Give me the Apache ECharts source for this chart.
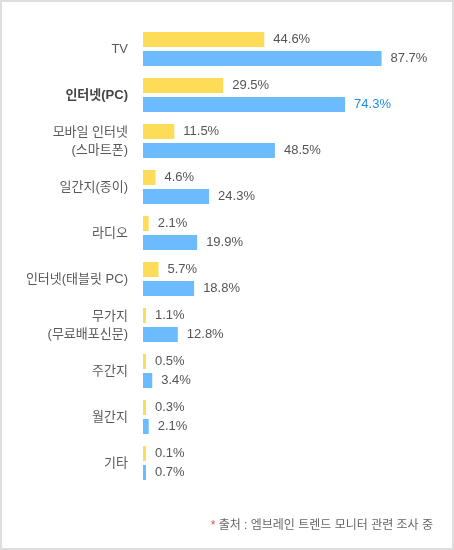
<!DOCTYPE html>
<html>
<head>
<meta charset="utf-8">
<script src="https://cdn.jsdelivr.net/npm/echarts@6/dist/echarts.min.js"></script>
<style>
  html, body { margin: 0; padding: 0; background: #fff; }
  #main { width: 454px; height: 550px; box-sizing: border-box; border: 2px solid #dedede; }
</style>
</head>
<body>
<div id="main"></div>
<script>
// 매체 목록 (위에서 아래 순서)
var categories = ['TV', '인터넷(PC)', '모바일 인터넷\n(스마트폰)', '일간지(종이)', '라디오',
    '인터넷(태블릿 PC)', '무가지\n(무료배포신문)', '주간지', '월간지', '기타'];
var yellowValues = [44.6, 29.5, 11.5, 4.6, 2.1, 5.7, 1.1, 0.5, 0.3, 0.1];
var blueValues = [87.7, 74.3, 48.5, 24.3, 19.9, 18.8, 12.8, 3.4, 2.1, 0.7];
var sourceNote = '출처 : 엠브레인 트렌드 모니터 관련 조사 중';

var highlight = '인터넷(PC)';
var fontFam = '"Liberation Sans", "Noto Sans CJK KR", sans-serif';

var myChart = echarts.init(document.getElementById('main'), null, { renderer: 'canvas' });

function labelFor(color) {
    return {
        show: true,
        position: 'right',
        distance: 9,
        fontSize: 13,
        fontFamily: fontFam,
        color: color,
        formatter: function (p) { return p.value + '%'; }
    };
}

var option = {
    animation: false,
    title: {
        text: '{star|*} ' + sourceNote,
        right: 14,
        bottom: 11,
        textStyle: {
            fontSize: 12,
            fontWeight: 'normal',
            fontFamily: fontFam,
            color: '#666',
            rich: {
                star: { color: '#e84a4a', fontSize: 12, fontFamily: fontFam }
            }
        }
    },
    grid: { left: 141, right: 37, top: 24, bottom: 62 },
    xAxis: {
        type: 'value',
        min: 0,
        max: 100,
        show: false
    },
    yAxis: {
        type: 'category',
        data: categories,
        inverse: true,
        axisLine: { show: false },
        axisTick: { show: false },
        axisLabel: {
            margin: 15,
            fontSize: 13,
            lineHeight: 18,
            fontFamily: fontFam,
            color: '#5a5a5a',
            formatter: function (v) {
                return v === highlight ? '{b|' + v + '}' : v;
            },
            rich: {
                b: { fontSize: 13, fontWeight: 'bold', color: '#444', fontFamily: fontFam }
            }
        }
    },
    series: [
        {
            type: 'bar',
            data: yellowValues,
            barWidth: 15,
            barGap: '27%',
            barMinHeight: 3,
            itemStyle: { color: '#ffdc57' },
            label: labelFor('#555')
        },
        {
            type: 'bar',
            data: blueValues.map(function (v, i) {
                if (categories[i] === highlight) {
                    return { value: v, label: { color: '#1a8ef0' } };
                }
                return v;
            }),
            barWidth: 15,
            barMinHeight: 3,
            itemStyle: { color: '#6cbbff' },
            label: labelFor('#555')
        }
    ]
};
myChart.setOption(option);
</script>
</body>
</html>
